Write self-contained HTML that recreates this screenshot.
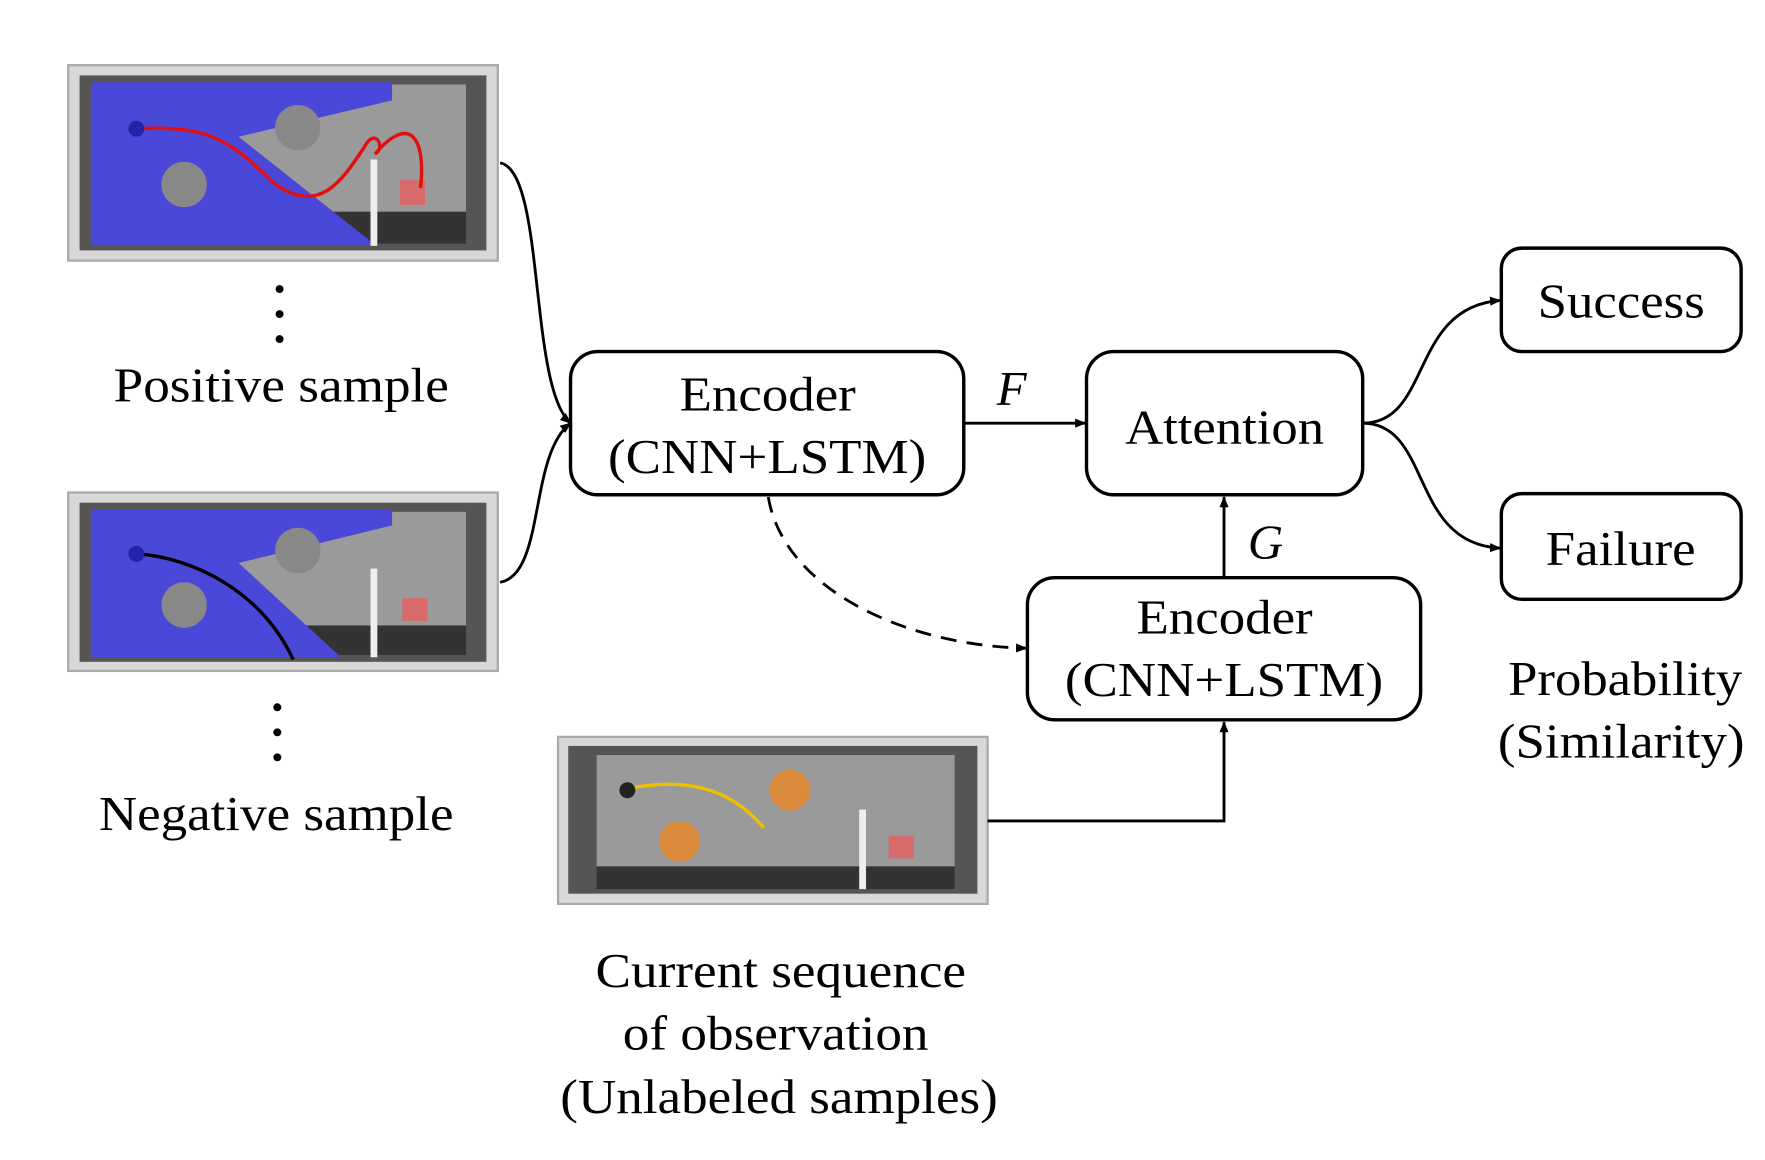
<!DOCTYPE html>
<html><head><meta charset="utf-8"><style>html,body{margin:0;padding:0;background:#fff}svg{display:block}</style></head>
<body>
<svg width="1765" height="1160" viewBox="0 0 1553 1020" xmlns="http://www.w3.org/2000/svg" font-family="Liberation Serif, serif">
<defs>
<marker id="ah" markerWidth="10" markerHeight="8" refX="9" refY="4" orient="auto" markerUnits="userSpaceOnUse"><path d="M0,0 L10,4 L0,8 z" fill="#000"/></marker>
</defs>
<rect width="1553" height="1020" fill="#fff"/>
<!-- Positive image -->
<g>
<rect x="60" y="57" width="378" height="172" fill="#d8d8d8" stroke="#aaa" stroke-width="2"/>
<rect x="70" y="66" width="358" height="154" fill="#555"/>
<rect x="90" y="74" width="320" height="112" fill="#9a9a9a"/>
<rect x="90" y="186" width="320" height="28" fill="#333"/>
<polygon points="80,72 345,72 345,88 210,120 330,215 80,215" fill="#4a48d8"/>
<circle cx="262" cy="112" r="20" fill="#888"/>
<circle cx="162" cy="162" r="20" fill="#888"/>
<rect x="326" y="140" width="6" height="76" fill="#eee"/>
<rect x="352" y="158" width="22" height="22" fill="#d76a6a"/>
<path d="M120,113 C180,110 200,120 240,160 C280,190 300,160 320,130 C330,110 340,130 330,135 C360,100 375,120 370,165" fill="none" stroke="#e01010" stroke-width="3"/>
<circle cx="120" cy="113" r="7" fill="#2222aa"/>
</g>
<!-- Negative image -->
<g>
<rect x="60" y="433" width="378" height="157" fill="#d8d8d8" stroke="#aaa" stroke-width="2"/>
<rect x="70" y="442" width="358" height="140" fill="#555"/>
<rect x="90" y="450" width="320" height="100" fill="#9a9a9a"/>
<rect x="90" y="550" width="320" height="26" fill="#333"/>
<polygon points="80,448 345,448 345,462 210,495 300,578 80,578" fill="#4a48d8"/>
<circle cx="262" cy="484" r="20" fill="#888"/>
<circle cx="162" cy="532" r="20" fill="#888"/>
<rect x="326" y="500" width="6" height="78" fill="#eee"/>
<rect x="354" y="526" width="22" height="20" fill="#d76a6a"/>
<path d="M120,487 C170,490 230,520 258,580" fill="none" stroke="#000" stroke-width="3"/>
<circle cx="120" cy="487" r="7" fill="#2222aa"/>
</g>
<!-- Current image -->
<g>
<rect x="491" y="648" width="378" height="147" fill="#d8d8d8" stroke="#aaa" stroke-width="2"/>
<rect x="500" y="656" width="360" height="130" fill="#555"/>
<rect x="525" y="664" width="315" height="98" fill="#9a9a9a"/>
<rect x="525" y="762" width="315" height="20" fill="#333"/>
<circle cx="695" cy="695" r="18" fill="#d98a3a"/>
<circle cx="598" cy="740" r="18" fill="#d98a3a"/>
<rect x="756" y="712" width="6" height="70" fill="#eee"/>
<rect x="782" y="735" width="22" height="20" fill="#d76a6a"/>
<path d="M555,693 C600,685 640,690 672,728" fill="none" stroke="#f0c000" stroke-width="3"/>
<circle cx="552" cy="695" r="7" fill="#222"/>
</g>
<!-- dots -->
<g fill="#000"><circle cx="246" cy="254" r="3.5"/><circle cx="246" cy="276" r="3.5"/><circle cx="246" cy="298" r="3.5"/>
<circle cx="244" cy="622" r="3.5"/><circle cx="244" cy="644" r="3.5"/><circle cx="244" cy="666" r="3.5"/></g>
<g font-size="43" fill="#000" lengthAdjust="spacingAndGlyphs">
<text x="100" y="353" textLength="295" lengthAdjust="spacingAndGlyphs">Positive sample</text>
<text x="87" y="730" textLength="312" lengthAdjust="spacingAndGlyphs">Negative sample</text>
<text x="598" y="361" textLength="155" lengthAdjust="spacingAndGlyphs">Encoder</text>
<text x="535" y="416" textLength="280" lengthAdjust="spacingAndGlyphs">(CNN+LSTM)</text>
<text x="990" y="390" textLength="175" lengthAdjust="spacingAndGlyphs">Attention</text>
<text x="1353" y="279" textLength="147" lengthAdjust="spacingAndGlyphs">Success</text>
<text x="1360" y="497" textLength="132" lengthAdjust="spacingAndGlyphs">Failure</text>
<text x="1000" y="557" textLength="155" lengthAdjust="spacingAndGlyphs">Encoder</text>
<text x="937" y="612" textLength="280" lengthAdjust="spacingAndGlyphs">(CNN+LSTM)</text>
<text x="1327" y="611" textLength="206" lengthAdjust="spacingAndGlyphs">Probability</text>
<text x="1318" y="666" textLength="217" lengthAdjust="spacingAndGlyphs">(Similarity)</text>
<text x="524" y="868" textLength="326" lengthAdjust="spacingAndGlyphs">Current sequence</text>
<text x="548" y="923" textLength="269" lengthAdjust="spacingAndGlyphs">of observation</text>
<text x="493" y="979" textLength="385" lengthAdjust="spacingAndGlyphs">(Unlabeled samples)</text>
<text x="877" y="356" font-style="italic">F</text>
<text x="1098" y="491" font-style="italic">G</text>
</g>
<g fill="none" stroke="#000" stroke-width="3">
<rect x="502" y="309" width="346" height="126" rx="24"/>
<rect x="956" y="309" width="243" height="126" rx="24"/>
<rect x="1321" y="218" width="211" height="91" rx="18"/>
<rect x="1321" y="434" width="211" height="93" rx="18"/>
<rect x="904" y="508" width="346" height="125" rx="24"/>
</g>
<g fill="none" stroke="#000" stroke-width="2.5" marker-end="url(#ah)">
<path d="M440,143 C480,150 465,340 502,372"/>
<path d="M440,512 C480,505 465,400 502,372"/>
<path d="M848,372 L955,372"/>
<path d="M1199,372 C1260,372 1240,270 1320,264"/>
<path d="M1199,372 C1260,372 1240,478 1320,482"/>
<path d="M1077,508 L1077,437"/>
<path d="M869,722 L1077,722 L1077,635"/>
<path d="M676,437 C690,520 800,568 903,570" stroke-dasharray="14,9"/>
</g>
</svg>
</body></html>
